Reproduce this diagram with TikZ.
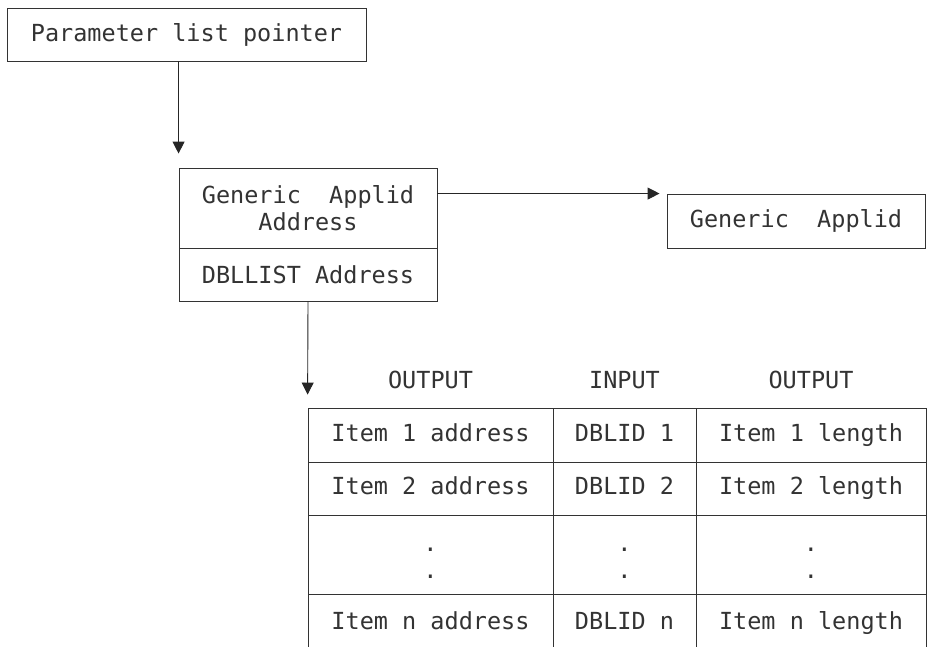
\documentclass[tikz,border=0pt]{standalone}
\usepackage{fontspec}
\newfontfamily\diagfont{DejaVu Sans Mono}
\usetikzlibrary{arrows.meta}
\tikzset{
  box/.style={draw=black!80, line width=0.9pt, inner sep=0pt, align=center, text=black!80,
    font=\diagfont\fontsize{23.5}{27}\selectfont},
  cell/.style={box, text height=17pt, text depth=5pt},
  head/.style={inner sep=0pt, align=center, text=black!80, font=\diagfont\fontsize{23.5}{27}\selectfont},
  arr/.style={draw=black!85, line width=0.9pt, -{Triangle[length=12pt,width=12pt]}}
}
\begin{document}
\begin{tikzpicture}[x=1pt, y=-1pt]
\useasboundingbox (0,0) rectangle (928,646);
\clip (0,0) rectangle (928,646);
\node[box, minimum width=359, minimum height=53] (plp) at (186.5,34.5){Parameter list pointer};
\node[box, minimum width=258, minimum height=80] (gaa) at (308,208){Generic~~Applid\\Address};
\node[box, minimum width=258, minimum height=53] (dla) at (308,274.5){DBLLIST Address};
\node[box, minimum width=258, minimum height=54] (ga) at (796,221){Generic~~Applid};
\draw[arr, shorten >=14pt](gaa.north west |- plp.south) -- (gaa.north west);
\draw[arr, shorten >=7pt](ga.north west -| gaa.east) -- (ga.north west);
\node[head] (hout1) at (430.5,380){OUTPUT};
\node[head] (hin) at (624.5,380){INPUT};
\node[head] (hout2) at (811,380){OUTPUT};
\node[cell, minimum width=245, minimum height=54] (r1c1) at (430.5,435){Item 1 address};
\node[cell, minimum width=143, minimum height=54] (r1c2) at (624.5,435){DBLID 1};
\node[cell, minimum width=230, minimum height=54] (r1c3) at (811,435){Item 1 length};
\node[cell, minimum width=245, minimum height=53] (r2c1) at (430.5,488.5){Item 2 address};
\node[cell, minimum width=143, minimum height=53] (r2c2) at (624.5,488.5){DBLID 2};
\node[cell, minimum width=230, minimum height=53] (r2c3) at (811,488.5){Item 2 length};
\node[box, minimum width=245, minimum height=79] (r3c1) at (430.5,554.5){};
\node[box, minimum width=143, minimum height=79] (r3c2) at (624.5,554.5){};
\node[box, minimum width=230, minimum height=79] (r3c3) at (811,554.5){};
\node[head] (dots1) at (430.5,563){.\\.};
\node[head] (dots2) at (624.5,563){.\\.};
\node[head] (dots3) at (811,563){.\\.};
\node[cell, minimum width=245, minimum height=58] (rnc1) at (430.5,623){Item n address};
\node[cell, minimum width=143, minimum height=58] (rnc2) at (624.5,623){DBLID n};
\node[cell, minimum width=230, minimum height=58] (rnc3) at (811,623){Item n length};
\draw[arr, shorten >=13pt](dla.south) -- (r1c1.north west);
\end{tikzpicture}
\end{document}
